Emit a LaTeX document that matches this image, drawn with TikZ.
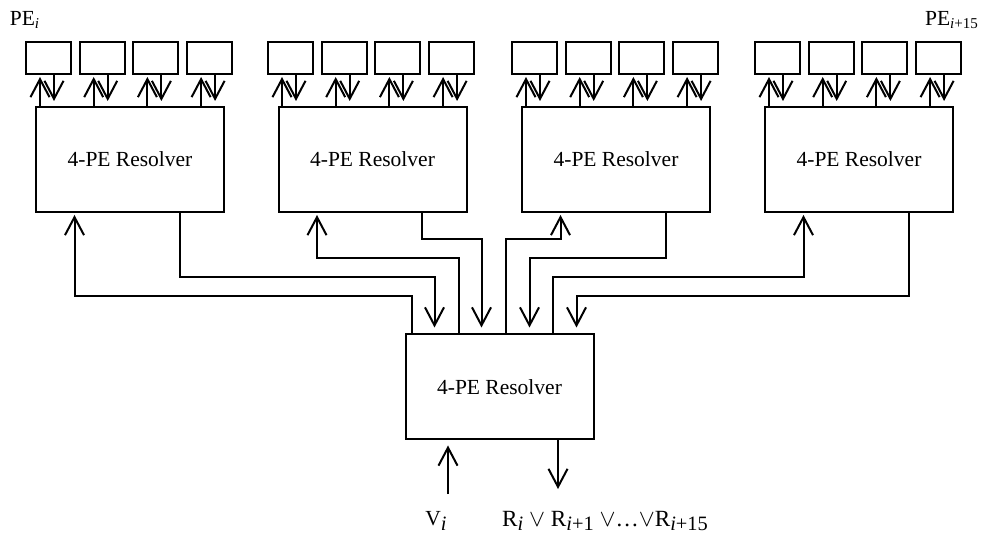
\documentclass[tikz,border=0pt]{standalone}
\usepackage{fontspec}
\setmainfont{Liberation Serif}
\usetikzlibrary{arrows.meta,calc}
\newcommand\bsub[1]{\raisebox{-0.45ex}{\fontsize{10.2}{11}\selectfont #1}}
\begin{document}
\begin{tikzpicture}[x=0.5pt,y=-0.5pt,
  line width=1pt,
  res/.style={draw,line width=1pt,minimum width=94pt,minimum height=52.5pt,inner sep=0pt,font=\fontsize{10.75}{13}\selectfont},
  pe/.style={draw,line width=1pt,minimum width=22.5pt,minimum height=16pt,inner sep=0pt},
  arr/.style={-{Straight Barb[length=9pt,width=9.5pt]}},
  lbl/.style={inner sep=0pt,font=\fontsize{10.75}{13}\selectfont}]
\useasboundingbox (0,0) rectangle (985,539);
% resolvers
\node[res] (r1) at (130,159.5) {4-PE Resolver};
\node[res] (r2) at (372.5,159.5) {4-PE Resolver};
\node[res] (r3) at (616,159.5) {4-PE Resolver};
\node[res] (r4) at (859,159.5) {4-PE Resolver};
\node[res] (bot) at (499.5,387) {4-PE Resolver};
% PE boxes and their arrows
\foreach \g/\L in {1/36,2/278,3/522,4/765}{
  \foreach \k in {1,...,4}{
    \node[pe] (p\g\k) at ({\L-10+22.5+(\k-1)*53.7},58) {};
    \coordinate (pu\g\k) at ($(p\g\k.south)+(-8.5,0)$);
    \coordinate (pd\g\k) at ($(p\g\k.south)+(5.5,0)$);
    \draw[arr,shorten >=1pt] (pu\g\k |- r\g.north) -- (pu\g\k);
    \draw[arr,shorten >=2.5pt] (pd\g\k) -- (pd\g\k |- r\g.north);
  }
}
% entry points on the bottom resolver
\foreach \n/\d in {1/7,2/30,3/54,4/77,5/101,6/125,7/148,8/172}{
  \coordinate (e\n) at ($(bot.north west)+(\d,0)$);
}
% inputs / outputs of the top resolvers
\foreach \g in {1,2,3,4}{
  \coordinate (i\g) at ($(r\g.south west)+(39.5,0)$);
  \coordinate (o\g) at ($(r\g.south west)+(144.5,0)$);
}
% routing levels
\coordinate (L1) at (0,239);
\coordinate (L2) at (0,258);
\coordinate (L3) at (0,277);
\coordinate (L4) at (0,296);
\begin{scope}[arr]
\draw[shorten >=1pt] (e1) -- (e1 |- L4) -| (i1);
\draw[shorten >=3pt] (o1) -- (o1 |- L3) -| (e2);
\draw[shorten >=1pt] (e3) -- (e3 |- L2) -| (i2);
\draw[shorten >=3pt] (o2) -- (o2 |- L1) -| (e4);
\draw[shorten >=1pt] (e5) -- (e5 |- L1) -| (i3);
\draw[shorten >=3pt] (o3) -- (o3 |- L2) -| (e6);
\draw[shorten >=1pt] (e7) -- (e7 |- L3) -| (i4);
\draw[shorten >=3pt] (o4) -- (o4 |- L4) -| (e8);
\end{scope}
% bottom input / output
\coordinate (vin) at (448,494);
\coordinate (rout) at (558,489);
\draw[arr,shorten >=2.5pt] (vin) -- (vin |- bot.south);
\draw[arr] (rout |- bot.south) -- (rout);
% labels
\node[lbl] (vl) at (436,521) {V\bsub{\textit{i}}};
\node[lbl,font=\fontsize{11.6}{13}\selectfont] (rl) at (605,521) {R\bsub{\textit{i}} $\vee$ R\bsub{\textit{i}+1} $\vee$\ldots$\vee$R\bsub{\textit{i}+15}};
\node[lbl] (pel) at (25,20) {PE\textsubscript{\textit{i}}};
\node[lbl] (per) at (952,20) {PE\textsubscript{\textit{i}+15}};
\end{tikzpicture}
\end{document}
